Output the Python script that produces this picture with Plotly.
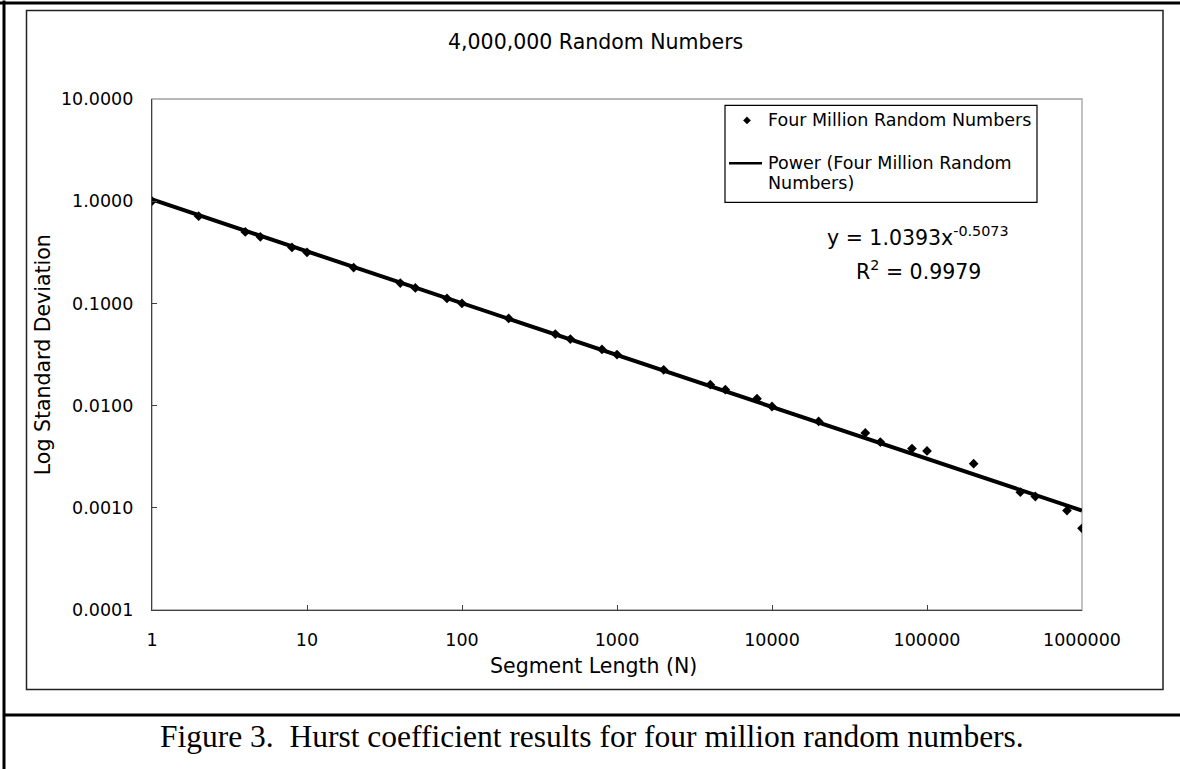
import plotly.graph_objects as go

# ---------------- data ----------------
segment_length = [1, 2, 4, 5, 8, 10, 20, 40, 50, 80, 100, 200, 400, 500, 800,
                  1000, 2000, 4000, 5000, 8000, 10000, 20000, 40000, 50000,
                  80000, 100000, 200000, 400000, 500000, 800000, 1000000]
std_dev = [1.0, 0.714, 0.501, 0.448, 0.353, 0.316, 0.224, 0.158, 0.1415, 0.1118,
           0.100, 0.0712, 0.0501, 0.0448, 0.0354, 0.0316, 0.0224, 0.0160, 0.0143,
           0.0117, 0.0098, 0.0070, 0.0054, 0.0044, 0.0038, 0.0036, 0.0027,
           0.00142, 0.00129, 0.00094, 0.00063]

trend_coef = 1.0393
trend_exp = -0.5073
r_squared = 0.9979

x_tick_vals = [1, 10, 100, 1000, 10000, 100000, 1000000]
x_tick_text = ["1", "10", "100", "1000", "10000", "100000", "1000000"]
y_tick_vals = [0.0001, 0.001, 0.01, 0.1, 1, 10]
y_tick_text = ["0.0001", "0.0010", "0.0100", "0.1000", "1.0000", "10.0000"]

chart_title = "4,000,000 Random Numbers"
x_title = "Segment Length (N)"
y_title = "Log Standard Deviation"
caption = "Figure 3.  Hurst coefficient results for four million random numbers."
series_name = "Four Million Random Numbers"
trend_name_lines = ["Power (Four Million Random", "Numbers)"]

# ---------------- layout geometry (pixels) ----------------
W, H = 1180, 769
L, R, T, B = 152, 1082, 98.6, 610
PW, PH = R - L, B - T


def px(x):
    return (x - L) / PW


def py(y):
    return 1 - (y - T) / PH


SANS = "DejaVu Sans, Verdana, sans-serif"
SERIF = "Liberation Serif, Times New Roman, serif"

trend_y = [trend_coef * x ** trend_exp for x in segment_length]

fig = go.Figure()
fig.add_trace(go.Scatter(
    x=segment_length, y=std_dev, mode="markers", name=series_name,
    marker=dict(symbol="diamond", size=7.5, color="black"),
    showlegend=False,
))
fig.add_trace(go.Scatter(
    x=segment_length, y=trend_y, mode="lines", name=" ".join(trend_name_lines),
    line=dict(color="black", width=4),
    showlegend=False,
))

axis_common = dict(
    type="log", showgrid=False, zeroline=False, automargin=False,
    showline=True, linecolor="#404040", linewidth=1.3,
    ticks="inside", ticklen=5, tickcolor="#404040", tickwidth=1,
    tickfont=dict(family=SANS, size=17.5, color="black"),
)

fig.update_layout(
    width=W, height=H, template="none",
    paper_bgcolor="white", plot_bgcolor="white",
    margin=dict(l=L, r=W - R, t=T, b=H - B, pad=0),
    xaxis=dict(range=[0, 6], tickvals=x_tick_vals, ticktext=x_tick_text,
               ticklabelstandoff=14, **axis_common),
    yaxis=dict(range=[-4, 1], tickvals=y_tick_vals, ticktext=y_tick_text,
               ticklabelstandoff=14, **axis_common),
    showlegend=False,
)

shapes = []
# plot area border (light grey)
shapes.append(dict(type="rect", xref="paper", yref="paper",
                   x0=0, x1=1, y0=0, y1=1,
                   line=dict(color="#a0a0a0", width=1.3), layer="below"))
# inner chart frame
shapes.append(dict(type="rect", xref="paper", yref="paper",
                   x0=px(26.5), x1=px(1163), y0=py(10), y1=py(689.5),
                   line=dict(color="#202020", width=1.5)))
# outer thick page lines
shapes.append(dict(type="line", xref="paper", yref="paper",
                   x0=px(0), x1=px(1180), y0=py(2.5), y1=py(2.5),
                   line=dict(color="black", width=3)))
shapes.append(dict(type="line", xref="paper", yref="paper",
                   x0=px(4), x1=px(4), y0=py(0), y1=py(769),
                   line=dict(color="black", width=3)))
shapes.append(dict(type="line", xref="paper", yref="paper",
                   x0=px(4), x1=px(1180), y0=py(715), y1=py(715),
                   line=dict(color="black", width=3)))

# legend box (drawn by hand so the line symbol aligns with the first text line)
shapes.append(dict(type="rect", xref="paper", yref="paper",
                   x0=px(725), x1=px(1037), y0=py(105), y1=py(202),
                   line=dict(color="black", width=1.2), fillcolor="white"))
shapes.append(dict(type="line", xref="paper", yref="paper",
                   x0=px(729), x1=px(762), y0=py(163), y1=py(163),
                   line=dict(color="black", width=2.5)))
d = 3.6
cx, cy = 747, 120
shapes.append(dict(type="path", xref="paper", yref="paper",
                   path="M %f,%f L %f,%f L %f,%f L %f,%f Z" % (
                       px(cx), py(cy - d), px(cx + d), py(cy),
                       px(cx), py(cy + d), px(cx - d), py(cy)),
                   fillcolor="black", line=dict(color="black", width=0.5)))

leg_font = dict(family=SANS, size=17.5, color="black")
annotations = [
    dict(text=series_name, x=px(766), y=py(120), xref="paper", yref="paper",
         showarrow=False, xanchor="left", yanchor="middle", font=leg_font),
    dict(text=trend_name_lines[0], x=px(766), y=py(163), xref="paper", yref="paper",
         showarrow=False, xanchor="left", yanchor="middle", font=leg_font),
    dict(text=trend_name_lines[1], x=px(766), y=py(182.5), xref="paper", yref="paper",
         showarrow=False, xanchor="left", yanchor="middle", font=leg_font),
    dict(text=chart_title, x=px(595), y=py(42), xref="paper", yref="paper",
         showarrow=False, xanchor="center", yanchor="middle",
         font=dict(family=SANS, size=20.5, color="black")),
    dict(text=x_title, x=px(593), y=py(666), xref="paper", yref="paper",
         showarrow=False, xanchor="center", yanchor="middle",
         font=dict(family=SANS, size=20.5, color="black")),
    dict(text=y_title, x=px(43), y=py(355), xref="paper", yref="paper",
         showarrow=False, xanchor="center", yanchor="middle", textangle=-90,
         font=dict(family=SANS, size=20.5, color="black")),
    dict(text="y = %.4fx<sup>%.4f</sup>" % (trend_coef, trend_exp),
         x=px(918), y=py(236), xref="paper", yref="paper",
         showarrow=False, xanchor="center", yanchor="middle",
         font=dict(family=SANS, size=20.5, color="black")),
    dict(text="R<sup>2</sup> = %.4f" % r_squared,
         x=px(918), y=py(270), xref="paper", yref="paper",
         showarrow=False, xanchor="center", yanchor="middle",
         font=dict(family=SANS, size=20.5, color="black")),
    dict(text=caption, x=px(592), y=py(737), xref="paper", yref="paper",
         showarrow=False, xanchor="center", yanchor="middle",
         font=dict(family=SERIF, size=31.5, color="black")),
]

fig.update_layout(shapes=shapes, annotations=annotations)
fig.write_html(
    "out.html",
    config={"displayModeBar": False},
    post_script="document.body.style.margin='0px';document.body.style.overflow='hidden';",
)
